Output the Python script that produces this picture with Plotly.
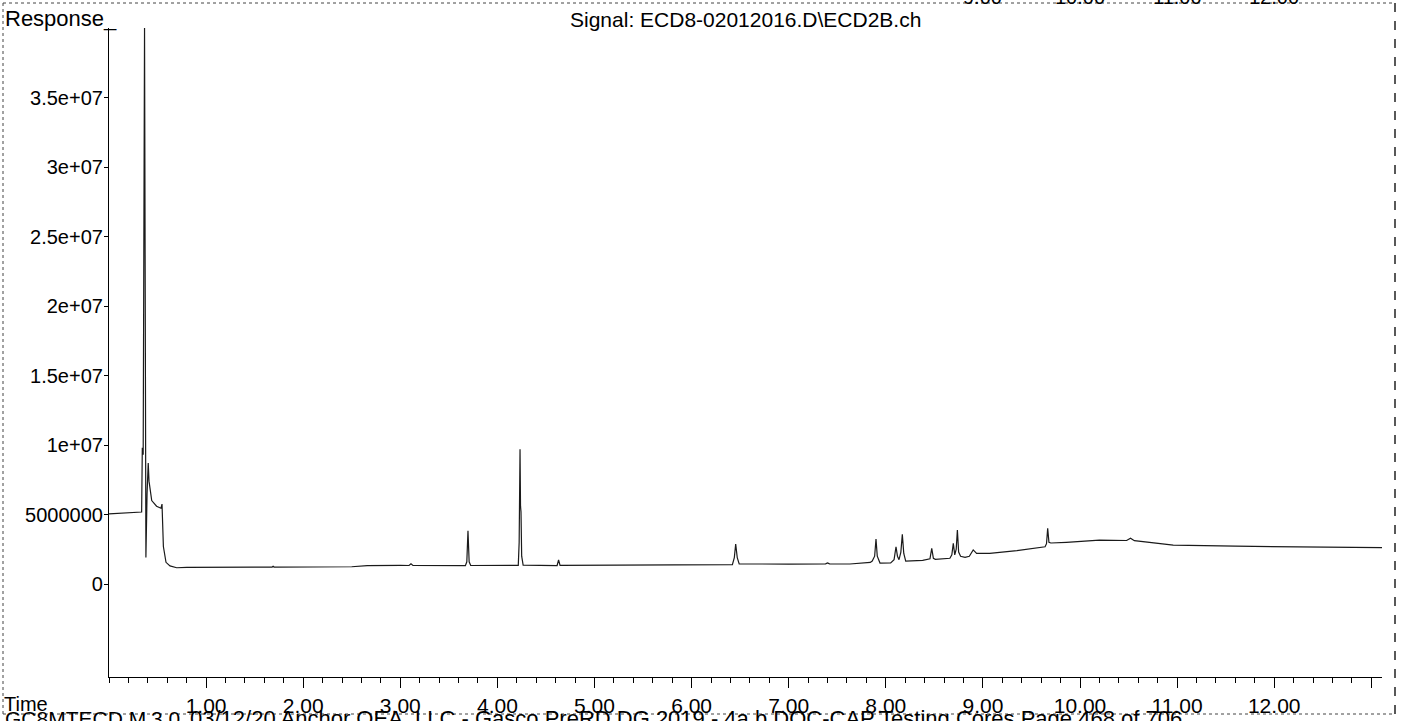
import plotly.graph_objects as go

# ---- data ----
time_min = [
    0.000, 0.336, 0.343, 0.352, 0.366, 0.380, 0.392, 0.404, 0.412, 0.440,
    0.490, 0.535, 0.546, 0.560, 0.587, 0.628, 0.697, 0.800, 1.500, 1.680,
    1.690, 1.700, 2.500, 2.660, 3.000, 3.090, 3.110, 3.130, 3.670, 3.685,
    3.697, 3.709, 3.725, 4.215, 4.224, 4.229, 4.233, 4.238, 4.243, 4.250,
    4.265, 4.615, 4.630, 4.645, 5.500, 6.420, 6.440, 6.454, 6.470, 6.490,
    7.000, 7.380, 7.400, 7.420, 7.630, 7.840, 7.860, 7.885, 7.899, 7.912,
    7.940, 8.050, 8.085, 8.105, 8.120, 8.136, 8.155, 8.170, 8.185, 8.205,
    8.380, 8.455, 8.473, 8.490, 8.510, 8.660, 8.680, 8.695, 8.710, 8.725,
    8.737, 8.750, 8.770, 8.816, 8.860, 8.900, 8.935, 9.070, 9.350, 9.640,
    9.655, 9.667, 9.680, 9.700, 9.860, 10.030, 10.200, 10.480, 10.520, 10.560,
    10.960, 11.600, 12.500, 13.110,
]
response = [
    5.05e6, 5.18e6, 9.8e6, 9.3e6, 4.0e7, 1.9e6, 6.5e6, 8.7e6, 7.4e6, 6.0e6,
    5.6e6, 5.45e6, 5.75e6, 2.7e6, 1.56e6, 1.3e6, 1.17e6, 1.2e6, 1.22e6, 1.22e6,
    1.28e6, 1.22e6, 1.24e6, 1.32e6, 1.34e6, 1.33e6, 1.45e6, 1.34e6, 1.32e6, 1.6e6,
    3.83e6, 1.6e6, 1.33e6, 1.34e6, 3.0e6, 5.4e6, 9.69e6, 5.6e6, 5.2e6, 2.0e6,
    1.36e6, 1.33e6, 1.73e6, 1.34e6, 1.36e6, 1.40e6, 1.9e6, 2.88e6, 1.9e6, 1.45e6,
    1.43e6, 1.45e6, 1.52e6, 1.45e6, 1.44e6, 1.55e6, 1.65e6, 2.0e6, 3.24e6, 2.0e6,
    1.51e6, 1.52e6, 1.75e6, 2.68e6, 2.0e6, 1.75e6, 2.3e6, 3.57e6, 2.2e6, 1.65e6,
    1.7e6, 1.82e6, 2.57e6, 1.85e6, 1.78e6, 1.85e6, 2.1e6, 2.93e6, 2.1e6, 2.5e6,
    3.88e6, 2.3e6, 2.0e6, 1.92e6, 2.0e6, 2.45e6, 2.2e6, 2.2e6, 2.4e6, 2.68e6,
    2.9e6, 4.0e6, 3.0e6, 2.95e6, 3.0e6, 3.1e6, 3.15e6, 3.13e6, 3.3e6, 3.12e6,
    2.8e6, 2.72e6, 2.68e6, 2.62e6,
]

x_tick_vals = [1, 2, 3, 4, 5, 6, 7, 8, 9, 10, 11, 12, 13]
x_tick_text = ["1.00", "2.00", "3.00", "4.00", "5.00", "6.00", "7.00",
               "8.00", "9.00", "10.00", "11.00", "12.00", ""]
y_tick_vals = [0, 5e6, 1e7, 1.5e7, 2e7, 2.5e7, 3e7, 3.5e7]
y_tick_text = ["0", "5000000", "1e+07", "1.5e+07", "2e+07", "2.5e+07",
               "3e+07", "3.5e+07"]
top_cut_labels = ["9.00", "10.00", "11.00", "12.00"]
top_cut_pos = [9, 10, 11, 12]

title_text = "Signal: ECD8-02012016.D\\ECD2B.ch"
footer_left = "GC8MTECD.M"
footer_ver = "3.0"
footer_text = "03/12/20 Anchor QEA, LLC - Gasco PreRD DG 2019 - 4a.b DOC-CAP Testing Cores Page 468 of 706"

# ---- layout geometry ----
W, H = 1402, 721
L, R, T, B = 109, 20, 28, 44
PW, PH = W - L - R, H - T - B
X_RANGE = [0, 13.11]
Y_RANGE = [-6.69e6, 4.0e7]

def px(xp):
    return (xp - L) / PW

def py(yp):
    return (H - B - yp) / PH

FONT = "Liberation Sans, Arial, sans-serif"

fig = go.Figure()
fig.add_trace(go.Scatter(
    x=time_min, y=response, mode="lines",
    line=dict(color="#1a1a1a", width=1.2),
    hoverinfo="skip", showlegend=False,
))

fig.update_layout(
    width=W, height=H,
    margin=dict(l=L, r=R, t=T, b=B, pad=0, autoexpand=False),
    paper_bgcolor="white", plot_bgcolor="white",
    font=dict(family=FONT, size=20, color="black"),
    showlegend=False,
    xaxis=dict(
        range=X_RANGE, showgrid=False, zeroline=False, automargin=False,
        showline=True, linecolor="black", linewidth=1.2,
        tickmode="array", tickvals=x_tick_vals, ticktext=x_tick_text,
        ticks="outside", ticklen=10, tickwidth=1, tickcolor="black",
        minor=dict(dtick=0.2, tick0=0, ticks="outside", ticklen=5,
                   tickwidth=1, tickcolor="black", showgrid=False),
        tickfont=dict(size=21, family=FONT, color="black"),
    ),
    yaxis=dict(
        range=Y_RANGE, showgrid=False, zeroline=False, automargin=False,
        showline=True, linecolor="black", linewidth=1.2,
        tickmode="array", tickvals=y_tick_vals, ticktext=y_tick_text,
        ticks="outside", ticklen=4, tickwidth=1, tickcolor="black",
        ticklabelstandoff=-3,
        tickfont=dict(size=20, family=FONT, color="black"),
    ),
)

annotations = [
    dict(text="Response_", x=px(3), y=py(18), xanchor="left", yanchor="middle", size=22),
    dict(text=title_text, x=px(745), y=py(20), xanchor="center", yanchor="middle", size=21),
    dict(text="Time", x=px(2), y=py(704), xanchor="left", yanchor="middle", size=20),
    dict(text=footer_left, x=px(3), y=py(718), xanchor="left", yanchor="middle", size=21),
    dict(text=footer_ver, x=px(182), y=py(718), xanchor="right", yanchor="middle", size=21),
    dict(text=footer_text, x=px(188), y=py(718), xanchor="left", yanchor="middle", size=22),
]
for lab, pos in zip(top_cut_labels, top_cut_pos):
    annotations.append(dict(text=lab, x=pos, xref="x", y=py(-3), xanchor="center",
                            yanchor="middle", size=20))
for a in annotations:
    a.setdefault("xref", "paper")
    a["yref"] = "paper"
    a["showarrow"] = False
    a["font"] = dict(size=a.pop("size"), family=FONT, color="black")
fig.update_layout(annotations=annotations)

border = dict(color="#444", width=1, dash="dot")
shapes = [
    dict(type="line", x0=px(3), x1=px(3), y0=py(3), y1=py(715), line=border),
    dict(type="line", x0=px(3), x1=px(1395), y0=py(3), y1=py(3), line=border),
    dict(type="line", x0=px(1395), x1=px(1395), y0=py(3), y1=py(718),
         line=dict(color="#222", width=1.5, dash="dash")),
    dict(type="line", x0=px(3), x1=px(1395), y0=py(714), y1=py(714), line=border),
]
for s in shapes:
    s["xref"] = "paper"
    s["yref"] = "paper"
    s["layer"] = "above"
fig.update_layout(shapes=shapes)

fig.write_html(
    "out.html",
    config={"displayModeBar": False},
    post_script="document.body.style.margin='0px';document.body.style.overflow='hidden';",
)
